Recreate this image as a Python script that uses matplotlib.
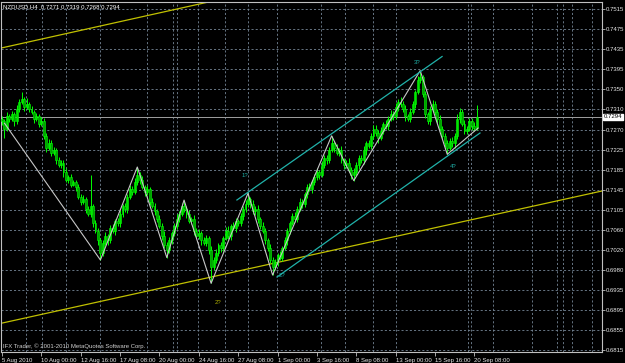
import numpy as np
import matplotlib
matplotlib.use('Agg')
import matplotlib.pyplot as plt

plt.rcParams['font.family'] = ['Liberation Sans', 'DejaVu Sans']

header = 'NZDUSD,H4  0.7271 0.7319 0.7268 0.7294'
copyright_text = 'IFX Trader, \u00a9 2001-2010 MetaQuotes Software Corp.'
bid = 0.7294

# H4 bars from 5 Aug 2010, prices in pips (x 1e-4); open = previous close
first_open = 7290
close_pips = [
    7285, 7270, 7295, 7290, 7300, 7285, 7310, 7325, 7330, 7315,
    7320, 7310, 7305, 7290, 7295, 7280, 7285, 7255, 7230, 7240,
    7220, 7225, 7205, 7195, 7200, 7180, 7165, 7170, 7155, 7160,
    7150, 7130, 7120, 7125, 7105, 7095, 7110, 7075, 7060, 7040,
    7015, 7035, 7050, 7040, 7065, 7060, 7080, 7075, 7095, 7110,
    7105, 7130, 7145, 7140, 7160, 7175, 7165, 7150, 7140, 7145,
    7120, 7110, 7100, 7085, 7070, 7050, 7030, 7020, 7040, 7055,
    7070, 7085, 7095, 7110, 7105, 7095, 7080, 7085, 7060, 7050,
    7055, 7040, 7035, 7045, 7020, 6985, 7000, 7015, 7030, 7025,
    7045, 7060, 7050, 7070, 7065, 7080, 7075, 7090, 7105, 7115,
    7125, 7115, 7100, 7105, 7085, 7070, 7060, 7040, 7025, 7000,
    6985, 6995, 7010, 7005, 7025, 7040, 7060, 7075, 7090, 7085,
    7105, 7120, 7115, 7135, 7150, 7145, 7160, 7170, 7180, 7175,
    7195, 7210, 7205, 7225, 7240, 7230, 7220, 7225, 7205, 7195,
    7200, 7185, 7175, 7180, 7195, 7210, 7205, 7225, 7240, 7235,
    7255, 7270, 7260, 7250, 7265, 7280, 7275, 7290, 7300, 7295,
    7315, 7325, 7320, 7310, 7295, 7290, 7305, 7320, 7345, 7370,
    7375, 7340, 7300, 7285, 7310, 7320, 7305, 7290, 7270, 7255,
    7240, 7230, 7245, 7240, 7255, 7290, 7305, 7280, 7265, 7270,
    7285, 7275, 7271, 7294]
upper_wick = [
    6, 5, 8, 4, 7, 5, 9, 6, 16, 5,
    12, 5, 6, 4, 7, 5, 8, 6, 5, 9,
    6, 8, 4, 7, 5, 6, 9, 4, 6, 5,
    5, 7, 6, 9, 4, 6, 65, 5, 8, 6,
    6, 5, 8, 4, 7, 9, 5, 6, 8, 5,
    7, 5, 8, 6, 9, 16, 5, 7, 4, 8,
    5, 8, 6, 4, 7, 5, 9, 6, 8, 5,
    6, 9, 5, 7, 13, 6, 8, 4, 7, 5,
    8, 5, 7, 6, 4, 9, 6, 8, 5, 7,
    5, 7, 9, 4, 8, 6, 5, 7, 6, 8,
    12, 5, 8, 6, 7, 4, 9, 5, 6, 8,
    6, 7, 5, 9, 4, 8, 6, 5, 7, 9,
    5, 8, 6, 4, 7, 9, 5, 6, 8, 5,
    8, 6, 5, 7, 15, 4, 8, 6, 9, 5,
    6, 9, 5, 8, 7, 5, 6, 9, 4, 7,
    5, 7, 8, 6, 9, 4, 7, 5, 8, 6,
    7, 5, 9, 6, 8, 5, 7, 6, 5, 8,
    14, 6, 8, 5, 7, 9, 6, 5, 8, 6,
    5, 7, 6, 8, 5, 9, 7, 6, 8, 5,
    7, 6, 8, 25]
lower_wick = [
    8, 20, 5, 7, 4, 9, 5, 6, 4, 8,
    5, 7, 6, 8, 4, 6, 5, 7, 9, 5,
    7, 5, 8, 4, 6, 9, 5, 7, 6, 4,
    8, 5, 7, 6, 9, 5, 6, 8, 5, 9,
    15, 7, 5, 9, 6, 4, 8, 5, 7, 6,
    6, 8, 4, 7, 5, 6, 9, 5, 8, 6,
    7, 4, 8, 6, 5, 9, 6, 15, 5, 7,
    5, 6, 8, 4, 7, 9, 5, 6, 8, 4,
    6, 9, 5, 7, 8, 33, 5, 7, 6, 8,
    7, 5, 6, 9, 4, 8, 6, 5, 7, 6,
    6, 8, 5, 7, 9, 6, 5, 8, 6, 7,
    16, 5, 8, 6, 7, 5, 9, 6, 4, 8,
    7, 5, 9, 6, 8, 4, 7, 5, 6, 9,
    5, 7, 8, 6, 4, 9, 5, 7, 6, 8,
    7, 5, 8, 12, 6, 8, 5, 7, 9, 5,
    8, 6, 5, 9, 4, 7, 6, 8, 5, 7,
    5, 8, 6, 7, 9, 5, 7, 6, 8, 4,
    7, 5, 9, 6, 8, 4, 7, 9, 5, 6,
    8, 13, 5, 7, 9, 6, 8, 5, 7, 6,
    5, 8, 6, 3]

time_labels = ['5 Aug 2010', '10 Aug 00:00', '12 Aug 16:00', '17 Aug 08:00',
               '20 Aug 00:00', '24 Aug 16:00', '27 Aug 08:00', '1 Sep 00:00',
               '3 Sep 16:00', '8 Sep 08:00', '13 Sep 00:00', '15 Sep 16:00',
               '20 Sep 08:00']
price_labels = ['0.6815', '0.6855', '0.6895', '0.6935', '0.6980', '0.7020',
                '0.7060', '0.7105', '0.7145', '0.7185', '0.7225', '0.7270',
                '0.7310', '0.7350', '0.7395', '0.7435', '0.7475', '0.7515']

# zigzag (bar, price)
zigzag_bars = [1, 40, 55, 67, 74, 85, 100, 110, 134, 143, 170, 181, 193.5]
zigzag_prices = [0.7281, 0.7000, 0.7191, 0.7005, 0.7123, 0.6952, 0.7137,
                 0.6969, 0.7255, 0.7163, 0.7389, 0.7217, 0.7271]

# trendlines: two anchors each (bar, price)
yellow_top = [(-0.8, 0.74349), (84.5, 0.75306)]
yellow_bottom = [(-0.8, 0.68694), (243.9, 0.71417)]
cyan_upper = [(95.5, 0.71232), (178.9, 0.74180)]
cyan_lower = [(111.8, 0.69650), (194.3, 0.72608)]

wave_text = ['1?', '2?', '2?', '3?', '4?']
wave_bars = [98.8, 87.8, 113.8, 168.7, 183.3]
wave_prices = [0.71745, 0.69116, 0.69671, 0.74047, 0.71930]
wave_colors = ['#20b2aa', '#b0b000', '#20b2aa', '#20b2aa', '#20b2aa']

# vertical grid positions (screen px of the original chart)
vgrid_px = [26, 42, 66, 100, 147, 173, 177, 198, 225, 248, 277, 321, 345,
            373, 396, 468, 471, 493, 532, 557, 563, 572, 592]

closes = np.array(close_pips) / 1e4
opens = np.concatenate([[first_open], close_pips[:-1]]) / 1e4
highs = np.maximum(opens, closes) + np.array(upper_wick) / 1e4
lows = np.minimum(opens, closes) - np.array(lower_wick) / 1e4
bars = np.arange(len(closes))

fs = 4.3

fig = plt.figure(figsize=(6.25, 3.63), dpi=100, facecolor='black')
ax = fig.add_axes([1.5 / 625, 11 / 363, 600.5 / 625, 350.5 / 363])
ax.set_facecolor('black')
ax.set_xlim(-0.2, 243.9)
ax.set_ylim(0.68109, 0.75310)

grid_kw = dict(color='#778899', lw=0.6, ls=(0, (2.5, 2.5)), zorder=0)
for p in np.linspace(0.6815, 0.7515, len(price_labels)):
    ax.axhline(p, **grid_kw)
for x in vgrid_px:
    ax.axvline((x - 2) / 2.46, **grid_kw)

ax.axhline(bid, color='#a0a0a0', lw=0.7, zorder=1)

ax.axline(*yellow_top, color='#c0c000', lw=0.9, zorder=2)
ax.axline(*yellow_bottom, color='#c0c000', lw=0.9, zorder=2)

# candles
ax.vlines(bars, lows, highs, color='#00ff00', lw=0.7, zorder=3)
up = closes >= opens
body = np.maximum(np.abs(closes - opens), 0.00008)
ax.bar(bars[up], body[up], bottom=np.minimum(opens, closes)[up], width=0.78,
       color='#00e600', edgecolor='#00ff00', lw=0.4, zorder=4)
ax.bar(bars[~up], body[~up], bottom=np.minimum(opens, closes)[~up], width=0.78,
       color='#00a000', edgecolor='#00ff00', lw=0.4, zorder=4)

ax.plot(zigzag_bars, zigzag_prices, color='#c8c8c8', lw=0.8, zorder=5)
for seg in (cyan_upper, cyan_lower):
    ax.plot([seg[0][0], seg[1][0]], [seg[0][1], seg[1][1]],
            color='#20b2aa', lw=0.9, zorder=5)

for t, b, p, c in zip(wave_text, wave_bars, wave_prices, wave_colors):
    ax.text(b, p, t, color=c, fontsize=fs, ha='center', va='center', zorder=6)

ax.text(0.003, 0.993, header, transform=ax.transAxes, color='white',
        fontsize=fs, ha='left', va='top')
ax.text(0.003, 0.016, copyright_text, transform=ax.transAxes, color='#d0d0d0',
        fontsize=fs, ha='left', va='center')

# axes styling
for s in ax.spines.values():
    s.set_color('#c0c0c0')
    s.set_linewidth(0.8)

ax.yaxis.tick_right()
ax.set_yticks(np.linspace(0.6815, 0.7515, len(price_labels)))
ax.set_yticklabels(price_labels)
ax.tick_params(axis='y', colors='#c0c0c0', labelcolor='#e8e8e8', length=2,
               width=0.6, labelsize=fs, pad=0.8)

ax.set_xticks(np.arange(len(time_labels)) * 16)
ax.set_xticklabels(time_labels, ha='left')
ax.tick_params(axis='x', colors='#c0c0c0', labelcolor='#e8e8e8', length=3,
               width=0.6, labelsize=fs, pad=1)

ax.text(1.003, bid, '%.4f' % bid, transform=ax.get_yaxis_transform(),
        color='black', fontsize=fs, ha='left', va='center',
        bbox=dict(facecolor='white', edgecolor='white', pad=0.5))

fig.savefig('out.png', dpi=100, facecolor='black')
